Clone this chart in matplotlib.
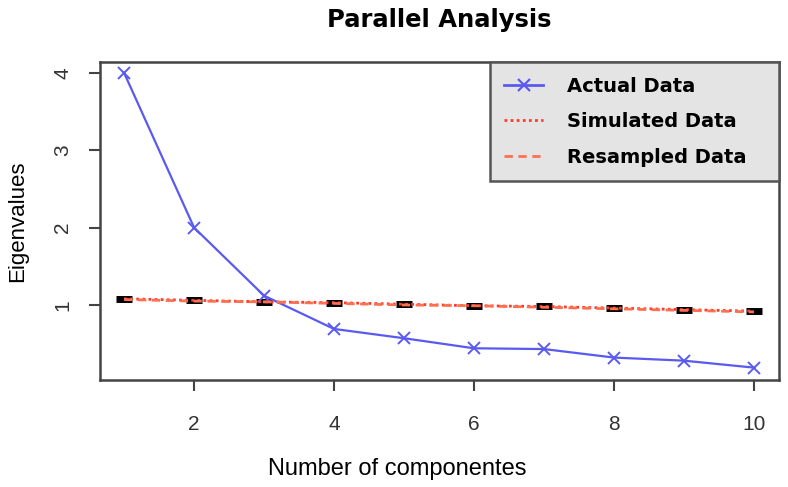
"""Parallel analysis scree plot"""

import matplotlib
matplotlib.use('Agg')
import matplotlib.pyplot as plt
from matplotlib.lines import Line2D

plt.rcParams['font.family'] = ['Liberation Sans', 'DejaVu Sans']

# Eigenvalues
components = [1, 2, 3, 4, 5, 6, 7, 8, 9, 10]
actual = [4.00, 2.00, 1.12, 0.69, 0.57, 0.44, 0.43, 0.32, 0.28, 0.19]
simulated = [1.08, 1.06, 1.04, 1.03, 1.01, 0.99, 0.98, 0.96, 0.94, 0.92]
resampled = [1.07, 1.05, 1.04, 1.02, 1.00, 0.99, 0.97, 0.95, 0.93, 0.91]
x_ticks = [2, 4, 6, 8, 10]
y_ticks = [1, 2, 3, 4]
labels = ['Actual Data', 'Simulated Data', 'Resampled Data']

fig = plt.figure(figsize=(7.88, 4.87), dpi=100)
ax = fig.add_axes([0.127, 0.2197, 0.8617, 0.653])

blue = '#5a5af0'
ax.plot(components, simulated, linestyle='none', marker='_', markersize=12,
        markeredgewidth=5, color='black', zorder=2)
ax.plot(components, actual, color=blue, linewidth=1.6, marker='x',
        markersize=8, markeredgewidth=1.4, zorder=3)
ax.plot(components, simulated, color='#ff3a2a', linewidth=2, linestyle=(0, (1, 1.2)), zorder=4)
ax.plot(components, resampled, color='#ff7050', linewidth=2, linestyle=(0, (3, 2)), zorder=4)

ax.set_xlim(0.657, 10.36)
ax.set_ylim(0.03, 4.14)
ax.set_xticks(x_ticks)
ax.set_yticks(y_ticks)
ax.tick_params(axis='both', length=8, width=1.5, color='#444444',
               labelsize=15, labelcolor='#333333')
ax.tick_params(axis='x', pad=17)
ax.tick_params(axis='y', pad=12)
for lab in ax.get_yticklabels():
    lab.set_rotation(90)
    lab.set_va('center')
for s in ax.spines.values():
    s.set_color('#444444')
    s.set_linewidth(1.8)

ax.set_xlabel('Number of componentes', fontsize=17)
ax.xaxis.set_label_coords(0.437, -0.245)
ax.set_ylabel('Eigenvalues', fontsize=16)
ax.yaxis.set_label_coords(-0.106, 0.5)
ax.set_title('Parallel Analysis', fontsize=17.5, fontweight='bold',
             family='DejaVu Sans', pad=25)

handles = [
    Line2D([], [], color=blue, linewidth=2, marker='x', markersize=8, markeredgewidth=1.6),
    Line2D([], [], color='#ff3a2a', linewidth=2, linestyle=(0, (1, 1.2))),
    Line2D([], [], color='#ff7050', linewidth=2, linestyle=(0, (3, 2))),
]
leg = ax.legend(handles, labels,
                loc='upper left', bbox_to_anchor=(0.574, 1.0, 0.426, 0.0),
                mode='expand', borderaxespad=0, fancybox=False,
                prop={'weight': 'bold', 'size': 14, 'family': 'DejaVu Sans'},
                labelspacing=0.85, borderpad=0.75, handlelength=2.0,
                handletextpad=1.2, framealpha=1)
leg.get_frame().set_facecolor('#e4e4e4')
leg.get_frame().set_edgecolor('#555555')
leg.get_frame().set_linewidth(1.8)

fig.savefig('out.png', dpi=100)
